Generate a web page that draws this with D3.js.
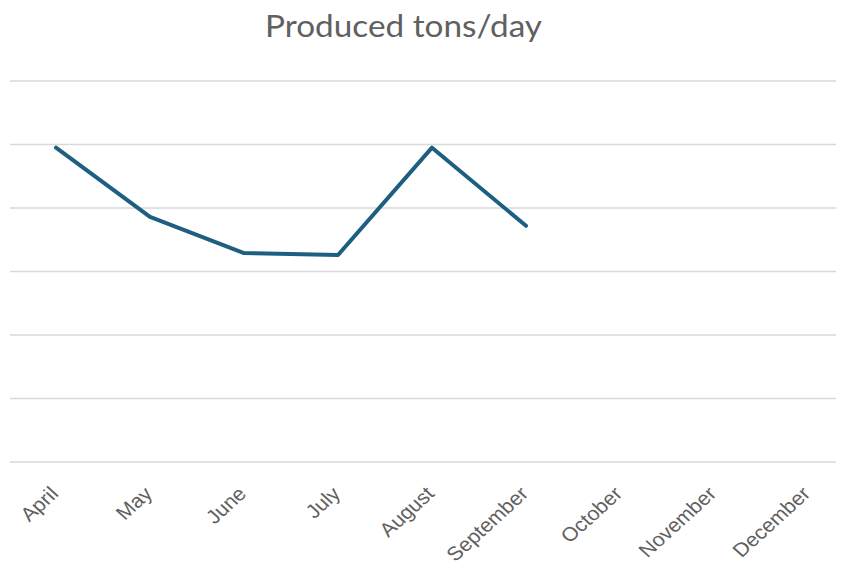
<!DOCTYPE html>
<html>
<head>
<meta charset="utf-8">
<script src="https://cdn.jsdelivr.net/npm/d3@7"></script>
<style>
  html, body { margin: 0; padding: 0; background: #fff; }
  svg { display: block; }
</style>
</head>
<body>
<svg id="chart" width="846" height="568"></svg>
<script>
// Monthly production (tons/day); months after September have no data yet.
const months = ["April", "May", "June", "July", "August", "September", "October", "November", "December"];
const produced = [49.5, 38.6, 32.9, 32.6, 49.5, 37.2, null, null, null];
const gridTicks = [0, 10, 20, 30, 40, 50, 60];

const svg = d3.select("#chart");
const grid = { left: 10, right: 836 };
const plot = { top: 81, bottom: 462 };

const x = d3.scalePoint().domain(months).range([56, 808]);
const y = d3.scaleLinear().domain([0, 60]).range([plot.bottom, plot.top]);

// Title
svg.append("text")
  .attr("x", 403.5)
  .attr("y", 37)
  .attr("text-anchor", "middle")
  .attr("font-family", "Lato, 'Open Sans', sans-serif")
  .attr("font-size", 30)
  .attr("textLength", 277)
  .attr("lengthAdjust", "spacingAndGlyphs")
  .attr("fill", "#606060")
  .text("Produced tons/day");

// Horizontal gridlines
svg.append("g")
  .selectAll("line")
  .data(gridTicks)
  .join("line")
  .attr("x1", grid.left)
  .attr("x2", grid.right)
  .attr("y1", d => y(d))
  .attr("y2", d => y(d))
  .attr("stroke", "#d9d9d9")
  .attr("stroke-width", 1.5);

// Category labels, rotated and slightly widened
const xAxis = d3.axisBottom(x).tickSize(0).tickPadding(0);
const gx = svg.append("g")
  .attr("transform", `translate(0,${plot.bottom})`)
  .call(xAxis);
gx.select(".domain").remove();
gx.selectAll("text")
  .attr("font-family", "'Liberation Sans', Arial, sans-serif")
  .attr("font-size", 19.5)
  .attr("fill", "#606060")
  .attr("text-anchor", "end")
  .attr("dy", null)
  .attr("transform", "translate(3,33) scale(1.1,1) rotate(-45)");

// Production line
const line = d3.line()
  .defined(d => d.v != null)
  .x(d => x(d.m))
  .y(d => y(d.v));

svg.append("path")
  .datum(months.map((m, i) => ({ m, v: produced[i] })))
  .attr("d", line)
  .attr("fill", "none")
  .attr("stroke", "#1d5f80")
  .attr("stroke-width", 4)
  .attr("stroke-linejoin", "round")
  .attr("stroke-linecap", "round");
</script>
</body>
</html>
